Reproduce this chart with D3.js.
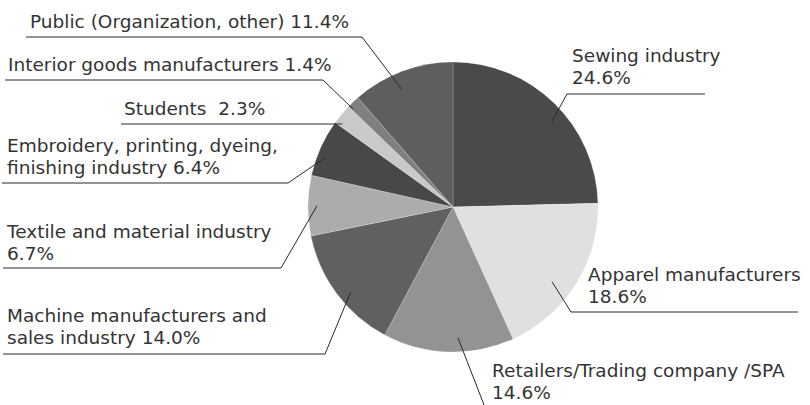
<!DOCTYPE html>
<html>
<head>
<meta charset="utf-8">
<script src="https://cdn.jsdelivr.net/npm/d3@7"></script>
<style>
  html, body { margin: 0; padding: 0; background: #fff; }
  svg { display: block; }
  text { font-family: "DejaVu Sans", "Noto Sans", sans-serif; fill: #333; white-space: pre; }
</style>
</head>
<body>
<svg id="chart" width="810" height="405"></svg>
<script>
// Respondent breakdown by industry (%)
const categories = [
  "Sewing industry",
  "Apparel manufacturers",
  "Retailers/Trading company /SPA",
  "Machine manufacturers and sales industry",
  "Textile and material industry",
  "Embroidery, printing, dyeing, finishing industry",
  "Students",
  "Interior goods manufacturers",
  "Public (Organization, other)"
];
const shares = [24.6, 18.6, 14.6, 14.0, 6.7, 6.4, 2.3, 1.4, 11.4];
const sliceColors = ["#4a4a4c", "#e0e0e2", "#939395", "#606062", "#acacae", "#48484a", "#c9c9cb", "#7f7f81", "#5e5e60"];

// Label text lines (value is appended from shares)
const labelLines = [
  ["Sewing industry", "{v}"],
  ["Apparel manufacturers", "{v}"],
  ["Retailers/Trading company /SPA", "{v}"],
  ["Machine manufacturers and", "sales industry {v}"],
  ["Textile and material industry", "{v}"],
  ["Embroidery, printing, dyeing,", "finishing industry {v}"],
  ["Students  {v}"],
  ["Interior goods manufacturers {v}"],
  ["Public (Organization, other) {v}"]
];

// Label layout: text position, underline row and its extent, leader radius
const labelLayout = [
  { tx: 572, ty: 62,  uy: 94,  ux0: 567, ux1: 705, elbow: "left",  lr: 130, da: 5 },
  { tx: 588, ty: 281, uy: 312, ux0: 571, ux1: 798, elbow: "left",  lr: 124, da: 5 },
  { tx: 492, ty: 377, uy: 410, ux0: 486, ux1: 810, elbow: "left",  lr: 131, da: -4 },
  { tx: 7,   ty: 322, uy: 354, ux0: 3,   ux1: 325, elbow: "right", lr: 133, da: -3 },
  { tx: 7,   ty: 238, uy: 268, ux0: 3,   ux1: 281, elbow: "right", lr: 136, da: 0 },
  { tx: 7,   ty: 152, uy: 183, ux0: 2,   ux1: 288, elbow: "right", lr: 137, da: -3 },
  { tx: 124, ty: 115, uy: 124, ux0: 121, ux1: 343, elbow: "none",  lr: 138, da: -3 },
  { tx: 8,   ty: 71,  uy: 80,  ux0: 5,   ux1: 323, elbow: "right", lr: 140, da: -2 },
  { tx: 30,  ty: 28,  uy: 37,  ux0: 26,  ux1: 362, elbow: "right", lr: 128, da: -3 }
];

const svg = d3.select("#chart");
const cx = 453, cy = 207, radius = 145;
const fontSize = 18.5, lineGap = 21.5;

const data = categories.map((c, i) => ({ name: c, value: shares[i], color: sliceColors[i], lines: labelLines[i], layout: labelLayout[i] }));

const pie = d3.pie().value(d => d.value).sort(null).startAngle(0).endAngle(2 * Math.PI);
const arc = d3.arc().innerRadius(0).outerRadius(radius);
const arcs = pie(data);

const g = svg.append("g").attr("transform", `translate(${cx},${cy})`);
g.selectAll("path.slice")
  .data(arcs)
  .join("path")
  .attr("class", "slice")
  .attr("d", arc)
  .attr("fill", d => d.data.color)
  .attr("stroke", "#ffffff")
  .attr("stroke-opacity", 0.35)
  .attr("stroke-width", 0.6);

// Leader lines: from a point inside the slice to the elbow, then along the underline
const leaders = svg.append("g").attr("fill", "none").attr("stroke", "#2a2a2a").attr("stroke-width", 1);
arcs.forEach(a => {
  const L = a.data.layout;
  const mid = (a.startAngle + a.endAngle) / 2 + L.da * Math.PI / 180;
  const px = cx + L.lr * Math.sin(mid);
  const py = cy - L.lr * Math.cos(mid);
  let pts;
  if (L.elbow === "left") pts = [[px, py], [L.ux0, L.uy], [L.ux1, L.uy]];
  else if (L.elbow === "right") pts = [[px, py], [L.ux1, L.uy], [L.ux0, L.uy]];
  else pts = [[px, L.uy], [L.ux0, L.uy]];
  leaders.append("path").attr("d", d3.line()(pts));
});

// Label text, one text element per line
const labels = svg.append("g").attr("font-size", fontSize);
arcs.forEach(a => {
  const L = a.data.layout;
  a.data.lines.forEach((ln, j) => {
    labels.append("text")
      .attr("x", L.tx)
      .attr("y", L.ty + j * lineGap)
      .text(ln.replace("{v}", a.data.value.toFixed(1) + "%"));
  });
});
</script>
</body>
</html>
